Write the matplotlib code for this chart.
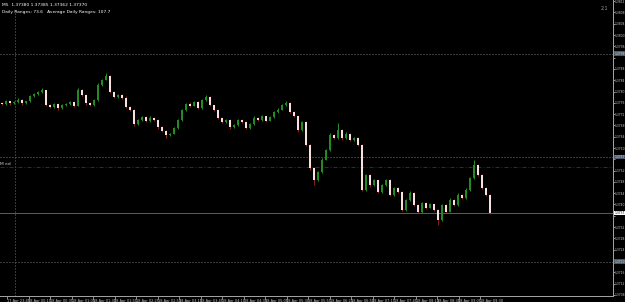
import numpy as np
import matplotlib
matplotlib.use("Agg")
import matplotlib.pyplot as plt
import matplotlib.transforms as mtransforms

# closing prices of the M5 bars (open = close of previous bar)
first_open = 1.37759
closes = [1.37756, 1.37766, 1.37759, 1.37763, 1.37770, 1.37759, 1.37766, 1.37784, 1.37791, 1.37798,
          1.37805, 1.37752, 1.37745, 1.37756, 1.37742, 1.37752, 1.37756, 1.37763, 1.37749, 1.37805,
          1.37788, 1.37759, 1.37752, 1.37770, 1.37823, 1.37841, 1.37855, 1.37798, 1.37781, 1.37788,
          1.37777, 1.37745, 1.37735, 1.37685, 1.37699, 1.37710, 1.37696, 1.37706, 1.37699, 1.37674,
          1.37660, 1.37646, 1.37650, 1.37671, 1.37699, 1.37735, 1.37756, 1.37749, 1.37763, 1.37742,
          1.37770, 1.37781, 1.37752, 1.37735, 1.37706, 1.37692, 1.37699, 1.37674, 1.37681, 1.37699,
          1.37692, 1.37671, 1.37685, 1.37706, 1.37699, 1.37713, 1.37696, 1.37710, 1.37728, 1.37735,
          1.37752, 1.37759, 1.37728, 1.37713, 1.37664, 1.37692, 1.37611, 1.37529, 1.37487, 1.37515,
          1.37558, 1.37593, 1.37646, 1.37635, 1.37664, 1.37635, 1.37650, 1.37628, 1.37635, 1.37611,
          1.37451, 1.37504, 1.37469, 1.37487, 1.37444, 1.37469, 1.37487, 1.37434, 1.37458, 1.37444,
          1.37381, 1.37416, 1.37441, 1.37398, 1.37374, 1.37405, 1.37388, 1.37402, 1.37381, 1.37345,
          1.37398, 1.37374, 1.37416, 1.37398, 1.37434, 1.37423, 1.37451, 1.37494, 1.37540, 1.37504,
          1.37458, 1.37434, 1.37370]

# wick lengths above / below the body, in pips
up_wick = [0.3, 0.5, 0.2, 0.4, 0.6, 0.3, 0.2, 0.5, 0.4, 0.3,
           0.8, 0.2, 0.4, 0.3, 0.2, 0.5, 0.3, 0.4, 0.2, 0.6,
           0.3, 0.2, 0.4, 0.5, 0.6, 0.4, 1.2, 0.3, 0.5, 0.4,
           0.3, 0.6, 0.2, 0.4, 0.3, 0.5, 0.2, 0.6, 0.3, 0.2,
           0.3, 0.2, 0.4, 0.3, 0.5, 0.4, 0.3, 0.6, 0.4, 0.2,
           0.5, 0.7, 0.3, 0.2, 0.4, 0.3, 0.5, 0.2, 0.4, 0.3,
           0.3, 0.2, 0.4, 0.6, 0.3, 0.5, 0.2, 0.4, 0.3, 0.5,
           0.4, 0.6, 0.3, 0.2, 0.3, 0.5, 0.3, 0.2, 0.3, 0.4,
           0.5, 0.3, 0.6, 0.4, 2.4, 0.3, 0.5, 0.4, 0.3, 0.4,
           0.3, 0.5, 0.3, 0.4, 0.2, 0.5, 0.4, 0.3, 0.5, 0.3,
           0.2, 0.4, 0.6, 0.3, 0.2, 0.5, 0.3, 0.4, 0.2, 0.3,
           0.5, 0.3, 0.6, 0.4, 0.5, 0.3, 0.6, 0.5, 1.6, 0.4,
           0.3, 0.5, 0.3]
dn_wick = [0.4, 0.3, 0.5, 0.2, 0.3, 0.6, 0.4, 0.3, 0.2, 0.4,
           0.3, 0.5, 0.3, 0.4, 0.6, 0.3, 0.2, 0.4, 0.3, 0.2,
           0.4, 0.5, 0.3, 0.2, 0.4, 0.3, 0.2, 0.5, 0.3, 0.4,
           0.2, 0.3, 0.5, 0.8, 0.3, 0.2, 0.4, 0.3, 0.2, 0.5,
           0.3, 0.9, 0.4, 0.2, 0.3, 0.2, 0.4, 0.3, 0.2, 0.5,
           0.3, 0.2, 0.4, 0.3, 0.2, 0.4, 0.3, 0.6, 0.3, 0.2,
           0.4, 0.5, 0.3, 0.2, 0.4, 0.3, 0.5, 0.2, 0.3, 0.4,
           0.2, 0.3, 0.5, 0.4, 0.6, 0.3, 0.5, 0.6, 1.8, 0.3,
           0.4, 0.2, 0.3, 0.4, 0.3, 0.5, 0.3, 0.2, 0.4, 0.3,
           0.5, 0.4, 0.6, 0.3, 0.4, 0.3, 0.2, 0.5, 0.3, 0.4,
           0.4, 0.3, 0.2, 0.4, 0.5, 0.3, 0.4, 0.2, 0.3, 1.7,
           0.3, 0.5, 0.2, 0.4, 0.3, 0.2, 0.4, 0.3, 0.2, 0.3,
           0.4, 0.3, 0.3]

time_labels = ["17 Apr 23:45", "18 Apr 00:10", "18 Apr 00:35", "18 Apr 01:05", "18 Apr 01:30",
               "18 Apr 01:55", "18 Apr 02:25", "18 Apr 02:50", "18 Apr 03:15", "18 Apr 03:45",
               "18 Apr 04:10", "18 Apr 04:35", "18 Apr 05:05", "18 Apr 05:30", "18 Apr 05:55",
               "18 Apr 06:25", "18 Apr 06:50", "18 Apr 07:15", "18 Apr 07:45", "18 Apr 08:10",
               "18 Apr 08:35", "18 Apr 09:05", "18 Apr 09:30"]
price_ticks = [1.3812 - 0.0004 * k for k in range(27)]

# horizontal levels drawn on the chart
level_dotted = [1.37933, 1.37568, 1.37197]
level_red = 1.37533
last_price = closes[-1]

header1 = "M5  1.37380 1.37385 1.37362 1.37370"
header2 = "Daily Ranges: 73.6   Average Daily Ranges: 107.7"

# ---------------------------------------------------------------
W, H = 625, 302
fig = plt.figure(figsize=(W / 100, H / 100), dpi=100, facecolor="black")
ax = fig.add_axes([0, 6 / H, 613 / W, 296 / H], facecolor="black")

closes = np.array(closes)
opens = np.concatenate([[first_open], closes[:-1]])
highs = np.maximum(opens, closes) + np.array(up_wick) * 0.0001
lows = np.minimum(opens, closes) - np.array(dn_wick) * 0.0001
idx = np.arange(len(closes))
bull = closes >= opens

green = "#248a24"
bear_body = "#f8e0e0"
bear_wick = "#8a1f1f"
px = 0.72

ax.vlines(idx[bull], lows[bull], highs[bull], color=green, lw=px, zorder=2)
ax.vlines(idx[~bull], lows[~bull], highs[~bull], color=bear_wick, lw=px, zorder=2)
body_h = np.maximum(np.abs(closes - opens), 0.00002)
ax.bar(idx[bull], body_h[bull], bottom=opens[bull], width=0.66, color=green, lw=0, zorder=3)
ax.bar(idx[~bull], body_h[~bull], bottom=closes[~bull], width=0.66, color=bear_body, lw=0, zorder=3)

# levels
for lv in level_dotted:
    ax.axhline(lv, color="#707070", lw=px, ls=(0, (1, 2)), zorder=1)
ax.axhline(level_red, color="#5e1818", lw=px, ls=(0, (4, 2, 1, 2)), zorder=1)
ax.axhline(last_price, color="#5a5a5a", lw=px, zorder=1)
# period separator
ax.axvline(3.2, ymin=0, ymax=0.97, color="#707070", lw=px, ls=(0, (1, 2)), zorder=1)

ax.set_xlim(-0.5, 152.75)
ax.set_ylim(1.37076, 1.38124)

for s in ["left", "top"]:
    ax.spines[s].set_visible(False)
for s in ["right", "bottom"]:
    ax.spines[s].set_color("#a0a0a0")
    ax.spines[s].set_linewidth(px)

# hide the tick labels that sit under a level box
boxed = level_dotted + [last_price]
ylabels = ["" if min(abs(p - b) for b in boxed) < 0.00016 else f"{p:.4f}" for p in price_ticks]
ax.yaxis.tick_right()
ax.set_yticks(price_ticks)
ax.set_yticklabels(ylabels)
ax.tick_params(axis="y", colors="#c8c8c8", labelsize=2.2, length=1.2, width=0.5, pad=0.3)

xt = [(7 + 21.5 * k - 2) / 4 for k in range(len(time_labels))]
ax.set_xticks(xt)
ax.set_xticklabels(time_labels, ha="left")
ax.tick_params(axis="x", colors="#c8c8c8", labelsize=2.5, length=2, width=0.5, pad=0.5, direction="out")

# price boxes for the levels on the axis
trans = mtransforms.blended_transform_factory(ax.transAxes, ax.transData)
for lv in level_dotted:
    ax.text(1.002, lv, f"{lv:.4f}", transform=trans, fontsize=2.2, color="#e0e0e0",
            va="center", ha="left", clip_on=False,
            bbox=dict(boxstyle="square,pad=0.15", fc="#4a5a6a", ec="none"))
ax.text(1.002, last_price, f"{last_price:.4f}", transform=trans, fontsize=2.2, color="black",
        va="center", ha="left", clip_on=False,
        bbox=dict(boxstyle="square,pad=0.15", fc="white", ec="none"))
ax.text(0.0, level_red + 0.00012, "M ed", transform=trans, fontsize=3.2, color="#d0d0d0",
        va="center", ha="left")

fig.text(2 / W, 1 - 5 / H, header1, fontsize=3.2, color="white", va="center", ha="left")
fig.text(2 / W, 1 - 12 / H, header2, fontsize=3.2, color="white", va="center", ha="left")
fig.text(604 / W, 1 - 8 / H, "2.1", fontsize=3.4, color="#a0a0a0", va="center", ha="center")

fig.savefig("out.png", dpi=100, facecolor="black")
